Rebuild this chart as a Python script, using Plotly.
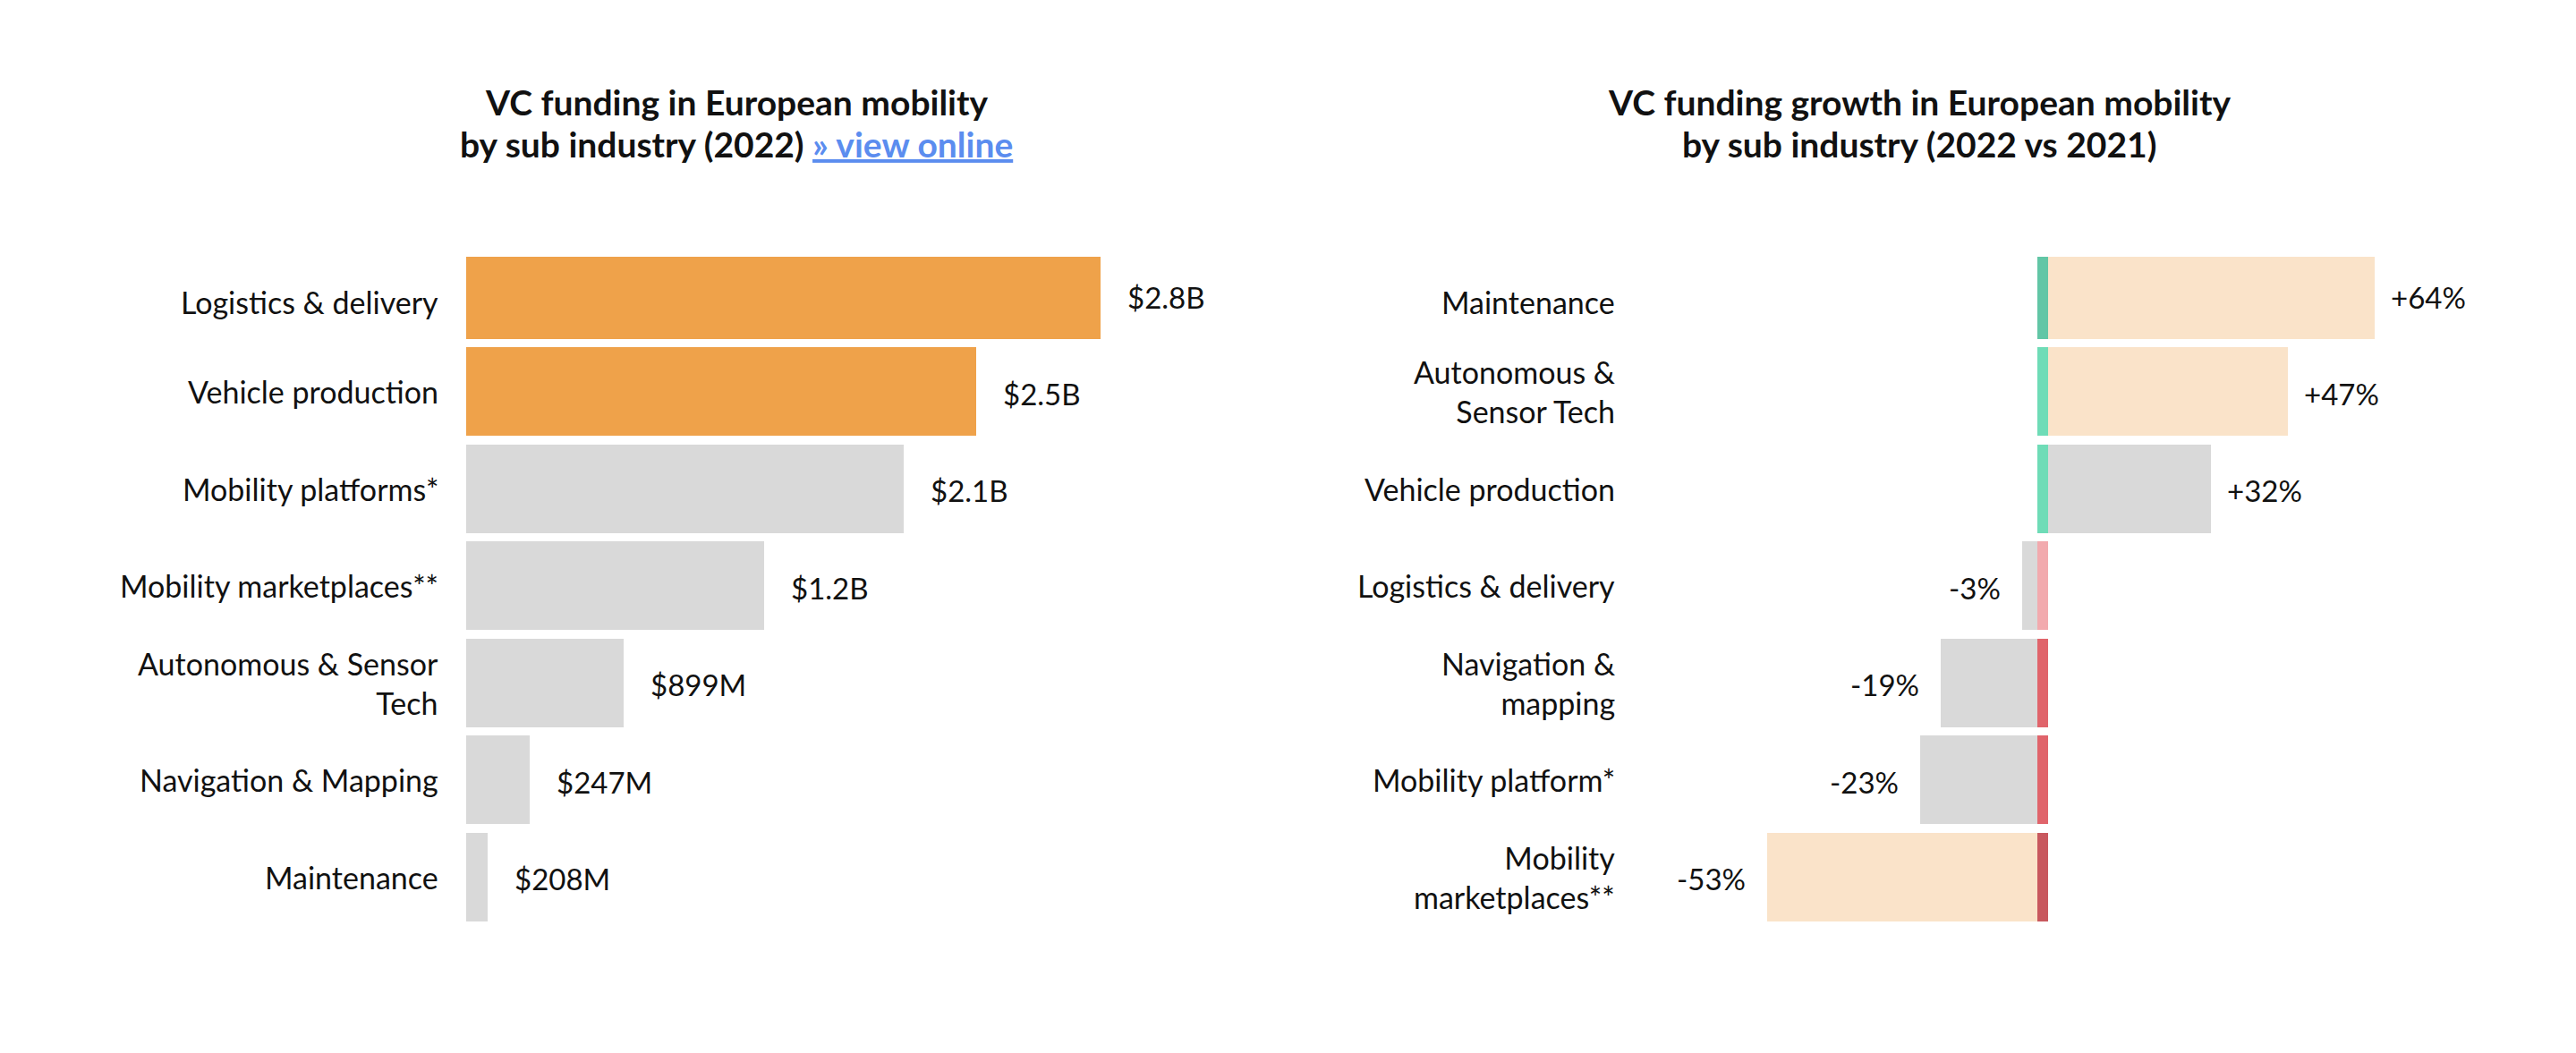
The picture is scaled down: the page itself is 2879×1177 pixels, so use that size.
import plotly.graph_objects as go

# ---------------- data ----------------
# Left chart: VC funding by sub industry (2022), top -> bottom
funding_categories = ["Logistics & delivery", "Vehicle production", "Mobility platforms*",
                      "Mobility marketplaces**", "Autonomous & Sensor<br>Tech",
                      "Navigation & Mapping", "Maintenance"]
# bar lengths ($B)
funding_values = [2.80, 2.25, 1.93, 1.315, 0.695, 0.28, 0.095]
funding_labels = ["$2.8B", "$2.5B", "$2.1B", "$1.2B", "$899M", "$247M", "$208M"]
funding_colors = ["#EFA24A", "#EFA24A", "#D9D9D9", "#D9D9D9", "#D9D9D9", "#D9D9D9", "#D9D9D9"]

# Right chart: VC funding growth (2022 vs 2021), top -> bottom
growth_categories = ["Maintenance", "Autonomous &<br>Sensor Tech", "Vehicle production",
                     "Logistics & delivery", "Navigation &<br>mapping", "Mobility platform*",
                     "Mobility<br>marketplaces**"]
growth_values = [64, 47, 32, -3, -19, -23, -53]
growth_labels = ["+64%", "+47%", "+32%", "-3%", "-19%", "-23%", "-53%"]
growth_colors = ["#FAE3C9", "#FAE3C9", "#D9D9D9", "#D9D9D9", "#D9D9D9", "#D9D9D9", "#FAE3C9"]
stripe_colors = ["#62C6A6", "#6FDCB7", "#6FDCB7", "#F2AAAE", "#E0646B", "#E0646B", "#C8585E"]

# ---------------- layout constants ----------------
W, H = 2879, 1177
TOP, BOTTOM = 287, 1030
FONT = "Lato, 'Source Sans Pro', sans-serif"
TXT = "#111111"
BAR_W = 0.912
rows = list(range(len(funding_categories)))

# left axis (pixels)
L0, L1 = 521, 1400
left_range = [0, 2.8 * (L1 - L0) / 709]
# right axis
R0, R1 = 1850, 2820
K = 5.70            # px per %
ZERO = 2283
STRIPE = 6 / K      # half stripe width in %
right_range = [-(ZERO - R0) / K, (R1 - ZERO) / K]

fig = go.Figure()

fig.add_trace(go.Bar(
    y=rows, x=funding_values, orientation="h", width=BAR_W,
    marker=dict(color=funding_colors, line=dict(width=0)),
    xaxis="x", yaxis="y", hoverinfo="skip", showlegend=False))

fig.add_trace(go.Bar(
    y=rows, x=growth_values, orientation="h", width=BAR_W,
    base=[STRIPE if v > 0 else -STRIPE for v in growth_values],
    marker=dict(color=growth_colors, line=dict(width=0)),
    xaxis="x2", yaxis="y2", hoverinfo="skip", showlegend=False))

fig.add_trace(go.Bar(
    y=rows, x=[2 * STRIPE] * len(rows), orientation="h", width=BAR_W,
    base=[-STRIPE] * len(rows),
    marker=dict(color=stripe_colors, line=dict(width=0)),
    xaxis="x2", yaxis="y2", hoverinfo="skip", showlegend=False))

ann = []
# titles
def py(px):
    return (BOTTOM - px) / (BOTTOM - TOP)

ann.append(dict(text="<b>VC funding in European mobility</b>", x=823 / W, y=py(114)))
ann.append(dict(text="<b>by sub industry (2022) </b><a href='#'><span style='color:#5B8DEF'><b><u>» view online</u></b></span></a>",
                x=823 / W, y=py(161)))
ann.append(dict(text="<b>VC funding growth in European mobility</b>", x=2145 / W, y=py(114)))
ann.append(dict(text="<b>by sub industry (2022 vs 2021)</b>", x=2145 / W, y=py(161)))
for a in ann:
    a.update(xref="paper", yref="paper", xanchor="center", yanchor="middle",
             showarrow=False, font=dict(family=FONT, size=39, color=TXT))

def cat_shift(i):
    return -8 if i == 0 else 0

def val_shift(i):
    return -3 if i == 0 else -2

# category labels
for i, c in enumerate(funding_categories):
    ann.append(dict(text=c, xref="paper", yref="y", x=492 / W, y=i, xanchor="right",
                    yanchor="middle", align="right", showarrow=False, yshift=cat_shift(i),
                    font=dict(family=FONT, size=34, color=TXT)))
for i, c in enumerate(growth_categories):
    ann.append(dict(text=c, xref="paper", yref="y2", x=1807 / W, y=i, xanchor="right",
                    yanchor="middle", align="right", showarrow=False, yshift=cat_shift(i),
                    font=dict(family=FONT, size=34, color=TXT)))

# value labels
for i, (v, t) in enumerate(zip(funding_values, funding_labels)):
    ann.append(dict(text=t, xref="x", yref="y", x=v, y=i, xanchor="left", yanchor="middle",
                    xshift=28, yshift=val_shift(i), showarrow=False,
                    font=dict(family=FONT, size=33, color=TXT)))
for i, (v, t) in enumerate(zip(growth_values, growth_labels)):
    pos = v > 0
    ann.append(dict(text=t, xref="x2", yref="y2", x=v + (STRIPE if pos else -STRIPE), y=i,
                    xanchor="left" if pos else "right", yanchor="middle",
                    xshift=16 if pos else -22, yshift=val_shift(i), showarrow=False,
                    font=dict(family=FONT, size=33, color=TXT)))

yr = [len(rows) - 1 + BAR_W / 2 + 0.004, -0.39]
axis_off = dict(showgrid=False, zeroline=False, showticklabels=False, showline=False, ticks="")
fig.update_layout(
    width=W, height=H,
    margin=dict(l=0, r=0, t=TOP, b=H - BOTTOM),
    paper_bgcolor="white", plot_bgcolor="white",
    barmode="overlay", bargap=0,
    xaxis=dict(domain=[L0 / W, L1 / W], range=left_range, **axis_off),
    yaxis=dict(domain=[0, 1], range=yr, **axis_off),
    xaxis2=dict(domain=[R0 / W, R1 / W], range=right_range, anchor="y2", **axis_off),
    yaxis2=dict(domain=[0, 1], range=yr, anchor="x2", **axis_off),
    annotations=ann,
    font=dict(family=FONT, color=TXT),
)

fig.write_html("out.html", config={"displayModeBar": False},
               post_script="document.body.style.margin='0';document.body.style.overflow='hidden';")
